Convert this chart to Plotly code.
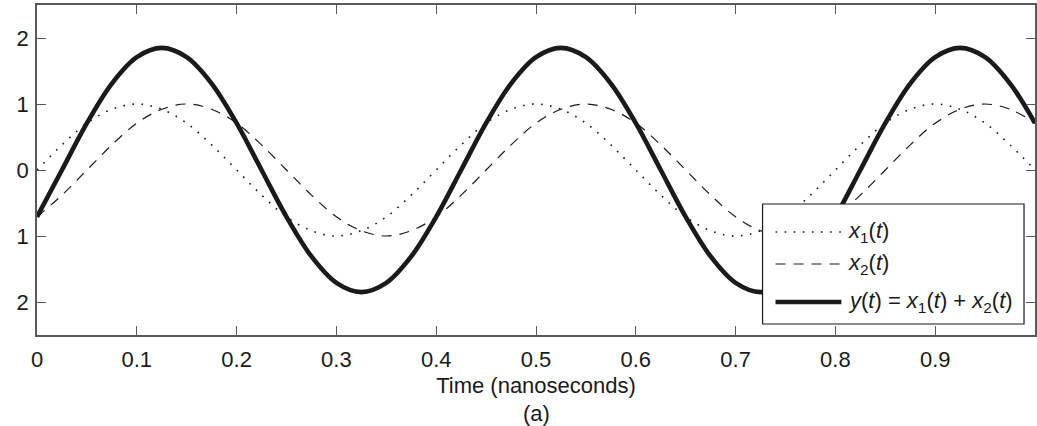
import plotly.graph_objects as go

# ---- data ----
t_ns = [0, 0.025, 0.05, 0.075, 0.1, 0.125, 0.15, 0.175, 0.2, 0.225, 0.25, 0.275, 0.3, 0.325, 0.35, 0.375,
        0.4, 0.425, 0.45, 0.475, 0.5, 0.525, 0.55, 0.575, 0.6, 0.625, 0.65, 0.675, 0.7, 0.725, 0.75, 0.775,
        0.8, 0.825, 0.85, 0.875, 0.9, 0.925, 0.95, 0.975, 1.0]
x1_vals = [0, 0.38, 0.71, 0.92, 1.0, 0.92, 0.71, 0.38, 0, -0.38, -0.71, -0.92, -1.0, -0.92, -0.71, -0.38,
           0, 0.38, 0.71, 0.92, 1.0, 0.92, 0.71, 0.38, 0, -0.38, -0.71, -0.92, -1.0, -0.92, -0.71, -0.38,
           0, 0.38, 0.71, 0.92, 1.0, 0.92, 0.71, 0.38, 0]
x2_vals = [-0.71, -0.38, 0, 0.38, 0.71, 0.92, 1.0, 0.92, 0.71, 0.38, 0, -0.38, -0.71, -0.92, -1.0, -0.92,
           -0.71, -0.38, 0, 0.38, 0.71, 0.92, 1.0, 0.92, 0.71, 0.38, 0, -0.38, -0.71, -0.92, -1.0, -0.92,
           -0.71, -0.38, 0, 0.38, 0.71, 0.92, 1.0, 0.92, 0.71]
y_vals = [-0.71, 0, 0.71, 1.31, 1.71, 1.85, 1.71, 1.31, 0.71, 0, -0.71, -1.31, -1.71, -1.85, -1.71, -1.31,
          -0.71, 0, 0.71, 1.31, 1.71, 1.85, 1.71, 1.31, 0.71, 0, -0.71, -1.31, -1.71, -1.85, -1.71, -1.31,
          -0.71, 0, 0.71, 1.31, 1.71, 1.85, 1.71, 1.31, 0.71]

x_tickvals = [0, 0.1, 0.2, 0.3, 0.4, 0.5, 0.6, 0.7, 0.8, 0.9]
x_ticktext = ["0", "0.1", "0.2", "0.3", "0.4", "0.5", "0.6", "0.7", "0.8", "0.9"]
y_tickvals = [2, 1, 0, -1, -2]
y_ticktext = ["2", "1", "0", "1", "2"]

legend_labels = ["<i>x</i><sub>1</sub>(<i>t</i>)",
                 "<i>x</i><sub>2</sub>(<i>t</i>)",
                 "<i>y</i>(<i>t</i>) = <i>x</i><sub>1</sub>(<i>t</i>) + <i>x</i><sub>2</sub>(<i>t</i>)"]

FONT = "Liberation Sans, Arial, Helvetica, sans-serif"
INK = "#1a1a1a"
AXIS = "#5a5a5a"
FS = 22

W, H = 1037, 426
ML, MR, MT, MB = 37, 0, 5, 91
PW, PH = W - ML - MR, H - MT - MB


def px(xp):
    return (xp - ML) / PW


def py(yp):
    return (H - MB - yp) / PH


fig = go.Figure()
fig.add_trace(go.Scatter(x=t_ns, y=x1_vals, mode="lines", line=dict(color=INK, width=1.6, dash="1.6px,7.5px", shape="spline"),
                         showlegend=False, hoverinfo="skip"))
fig.add_trace(go.Scatter(x=t_ns, y=x2_vals, mode="lines", line=dict(color=INK, width=1.2, dash="10px,8px", shape="spline"),
                         showlegend=False, hoverinfo="skip"))
fig.add_trace(go.Scatter(x=t_ns, y=y_vals, mode="lines", line=dict(color=INK, width=4.6, shape="spline"),
                         showlegend=False, hoverinfo="skip"))

axis_common = dict(showgrid=False, zeroline=False, showline=True, linecolor=AXIS, linewidth=1.5,
                   mirror="ticks", ticks="inside", ticklen=9, tickwidth=1.2, tickcolor=AXIS,
                   tickfont=dict(family=FONT, size=FS, color=INK))

fig.update_xaxes(range=[0, 1], tickvals=x_tickvals, ticktext=x_ticktext, ticklabelstandoff=4,
                 title=dict(text="Time (nanoseconds)", font=dict(family=FONT, size=FS, color=INK), standoff=6),
                 **axis_common)
fig.update_yaxes(range=[-2.5, 2.5], tickvals=y_tickvals, ticktext=y_ticktext, ticklabelstandoff=2, **axis_common)

shapes = []
annotations = []
# legend box
shapes.append(dict(type="rect", xref="paper", yref="paper", x0=px(764), x1=px(1026), y0=py(324), y1=py(204),
                   fillcolor="white", line=dict(color=INK, width=1.2), layer="above"))
rows = [232, 264, 302]
styles = [dict(color=INK, width=1.6, dash="1.6px,7.5px"), dict(color=INK, width=1.2, dash="10px,8px"),
          dict(color=INK, width=4.6)]
for r, st, lab in zip(rows, styles, legend_labels):
    shapes.append(dict(type="line", xref="paper", yref="paper", x0=px(777), x1=px(843), y0=py(r), y1=py(r),
                       line=st, layer="above"))
    annotations.append(dict(text=lab, xref="paper", yref="paper", x=px(848), y=py(r), xanchor="left",
                            yanchor="middle", showarrow=False, font=dict(family=FONT, size=FS, color=INK)))

annotations.append(dict(text="(a)", xref="paper", yref="paper", x=0.5, y=py(413), xanchor="center",
                        yanchor="middle", showarrow=False, font=dict(family=FONT, size=FS, color=INK)))

fig.update_layout(width=W, height=H, margin=dict(l=ML, r=MR, t=MT, b=MB),
                  paper_bgcolor="white", plot_bgcolor="white", shapes=shapes, annotations=annotations,
                  font=dict(family=FONT, size=FS, color=INK))

fig.write_html("out.html", config={"displayModeBar": False},
               post_script="document.body.style.margin='0px';document.body.style.padding='0px';")
